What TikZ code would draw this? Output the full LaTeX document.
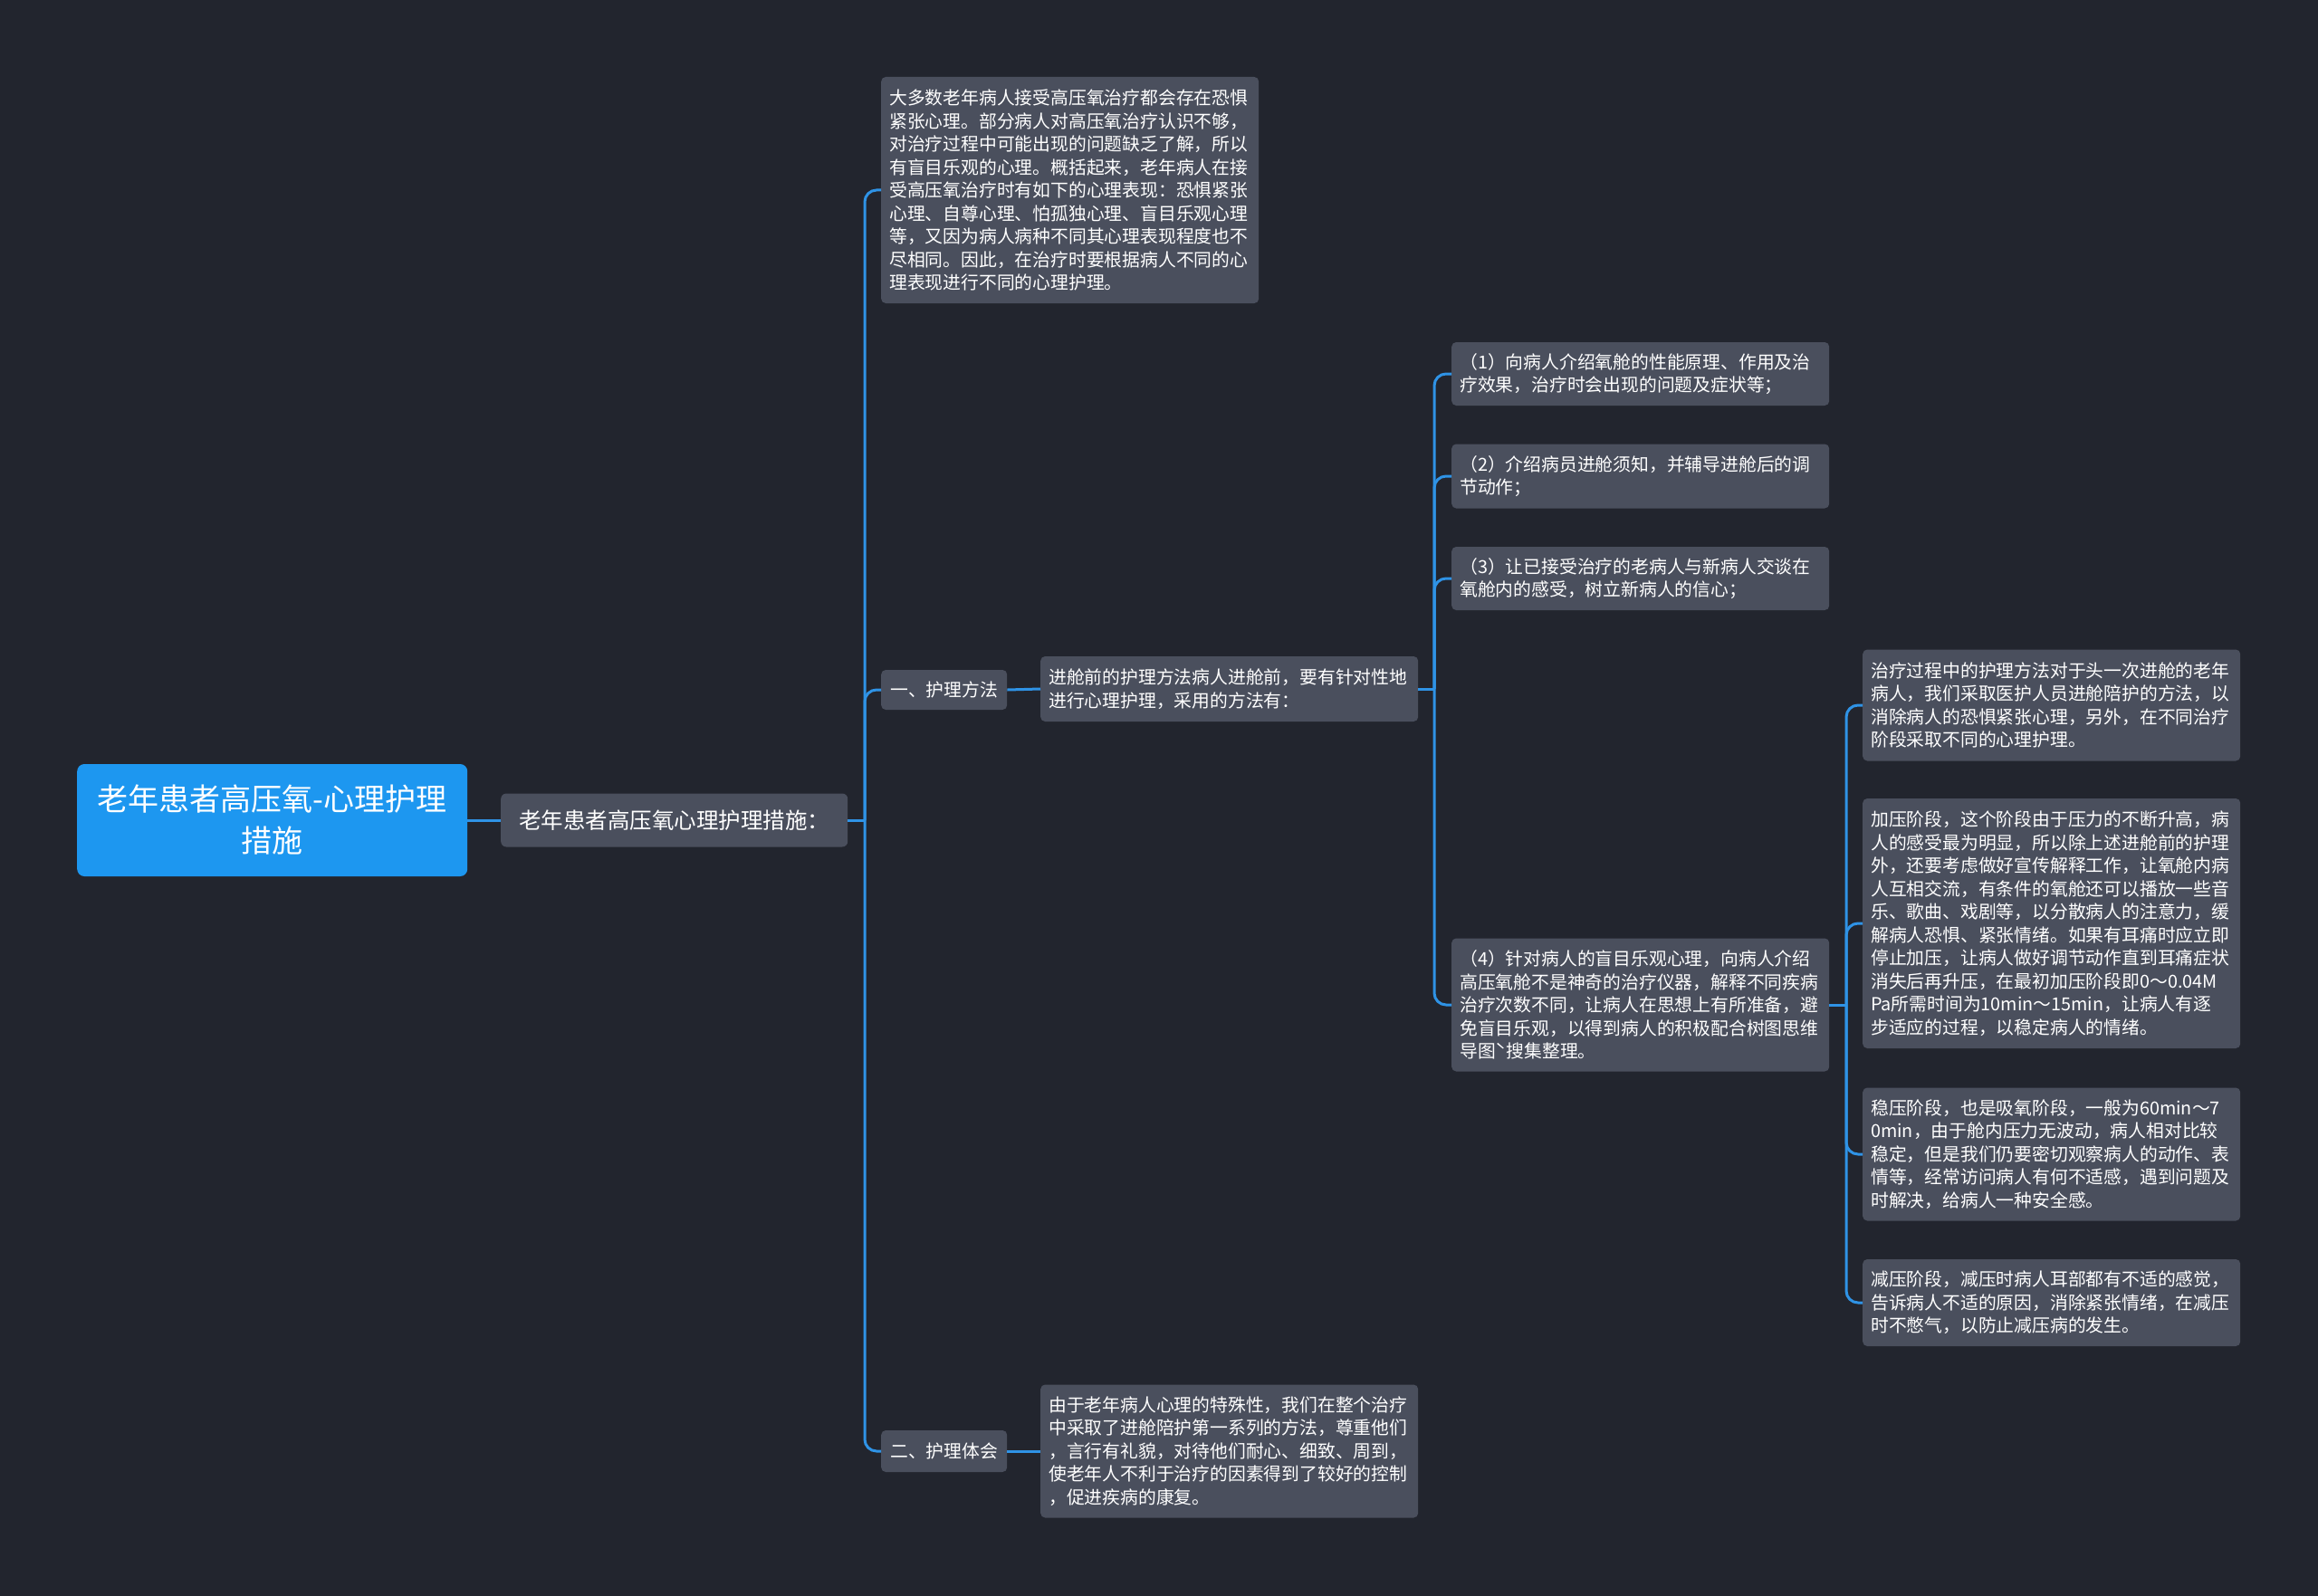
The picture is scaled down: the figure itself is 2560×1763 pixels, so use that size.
\documentclass[tikz,border=0pt]{standalone}
\usepackage{fontspec}
\setmainfont{Noto Sans CJK SC}
\definecolor{bgc}{HTML}{22252E}
\definecolor{boxc}{HTML}{4A4F5D}
\definecolor{linec}{HTML}{2F93E6}
\definecolor{rootc}{HTML}{1D97F0}
\tikzset{
  box/.style={fill=boxc, rounded corners=5pt, text=white, anchor=west, align=left,
    inner xsep=9pt, inner ysep=0pt, text width=399pt,
    font=\fontsize{19.8}{25.5}\selectfont},
  tag/.style={fill=boxc, rounded corners=5pt, text=white, anchor=west, align=center,
    inner xsep=0pt, inner ysep=0pt, minimum width=139pt, minimum height=44pt,
    font=\fontsize{19.8}{25.5}\selectfont},
  conn/.style={draw=linec, line width=3pt, rounded corners=13pt},
}
\begin{document}
\begin{tikzpicture}[x=1pt,y=-1pt]
\fill[bgc] (0,0) rectangle (2560,1763);
\useasboundingbox (0,0) rectangle (2560,1763);

\node[fill=rootc, rounded corners=8pt, text=white, anchor=west, align=center,
  minimum width=431pt, minimum height=124pt, inner sep=0pt,
  font=\fontsize{34}{46}\selectfont] (root) at (85,906)
  {老年患者高压氧-心理护理\\措施};

\node[fill=boxc, rounded corners=6pt, text=white, anchor=west, align=center,
  minimum width=383pt, minimum height=59pt, inner sep=0pt,
  font=\fontsize{24.5}{30}\selectfont] (L1) at (553,906)
  {老年患者高压氧心理护理措施：};

\node[box, minimum height=250pt] (T) at (973,210) {大多数老年病人接受高压氧治疗都会存在恐惧\\
紧张心理。部分病人对高压氧治疗认识不够，\\
对治疗过程中可能出现的问题缺乏了解，所以\\
有盲目乐观的心理。概括起来，老年病人在接\\
受高压氧治疗时有如下的心理表现：恐惧紧张\\
心理、自尊心理、怕孤独心理、盲目乐观心理\\
等，又因为病人病种不同其心理表现程度也不\\
尽相同。因此，在治疗时要根据病人不同的心\\
理表现进行不同的心理护理。};

\node[tag] (M1) at (973,762) {一、护理方法};
\node[tag, minimum height=46pt] (M2) at (973,1603) {二、护理体会};

\node[box, minimum height=72pt] (P) at (1149,761) {进舱前的护理方法病人进舱前，要有针对性地\\
进行心理护理，采用的方法有：};

\node[box, minimum height=70pt] (n1) at (1603,413) {（1）向病人介绍氧舱的性能原理、作用及治\\
疗效果，治疗时会出现的问题及症状等；};
\node[box, minimum height=71pt] (n2) at (1603,526) {（2）介绍病员进舱须知，并辅导进舱后的调\\
节动作；};
\node[box, minimum height=70pt] (n3) at (1603,639) {（3）让已接受治疗的老病人与新病人交谈在\\
氧舱内的感受，树立新病人的信心；};
\node[box, minimum height=147pt] (n4) at (1603,1110) {（4）针对病人的盲目乐观心理，向病人介绍\\
高压氧舱不是神奇的治疗仪器，解释不同疾病\\
治疗次数不同，让病人在思想上有所准备，避\\
免盲目乐观，以得到病人的积极配合树图思维\\
导图ˋ搜集整理。};

\node[box, minimum height=123pt] (A) at (2057,779) {治疗过程中的护理方法对于头一次进舱的老年\\
病人，我们采取医护人员进舱陪护的方法，以\\
消除病人的恐惧紧张心理，另外，在不同治疗\\
阶段采取不同的心理护理。};
\node[box, minimum height=276pt] (B) at (2057,1020) {加压阶段，这个阶段由于压力的不断升高，病\\
人的感受最为明显，所以除上述进舱前的护理\\
外，还要考虑做好宣传解释工作，让氧舱内病\\
人互相交流，有条件的氧舱还可以播放一些音\\
乐、歌曲、戏剧等，以分散病人的注意力，缓\\
解病人恐惧、紧张情绪。如果有耳痛时应立即\\
停止加压，让病人做好调节动作直到耳痛症状\\
消失后再升压，在最初加压阶段即0～0.04M\\
Pa所需时间为10min～15min，让病人有逐\\
步适应的过程，以稳定病人的情绪。};
\node[box, minimum height=147pt] (C) at (2057,1275) {稳压阶段，也是吸氧阶段，一般为60min～7\\
0min，由于舱内压力无波动，病人相对比较\\
稳定，但是我们仍要密切观察病人的动作、表\\
情等，经常访问病人有何不适感，遇到问题及\\
时解决，给病人一种安全感。};
\node[box, minimum height=96pt] (D) at (2057,1439) {减压阶段，减压时病人耳部都有不适的感觉，\\
告诉病人不适的原因，消除紧张情绪，在减压\\
时不憋气，以防止减压病的发生。};

\node[box, minimum height=147pt] (Q) at (1149,1603) {由于老年病人心理的特殊性，我们在整个治疗\\
中采取了进舱陪护第一系列的方法，尊重他们\\
，言行有礼貌，对待他们耐心、细致、周到，\\
使老年人不利于治疗的因素得到了较好的控制\\
，促进疾病的康复。};

\coordinate (j1) at (955,906);
\coordinate (j2) at (1584,761);
\coordinate (j3) at (2039,1110);

\draw[conn] (root.east) -- (L1.west);
\draw[conn] (L1.east) -- (j1);
\foreach \c in {T,M1,M2} \draw[conn] (j1) |- (\c.west);
\draw[conn] (M1.east) -- (P.west);
\draw[conn] (P.east) -- (j2);
\foreach \c in {n1,n2,n3,n4} \draw[conn] (j2) |- (\c.west);
\draw[conn] (n4.east) -- (j3);
\foreach \c in {A,B,C,D} \draw[conn] (j3) |- (\c.west);
\draw[conn] (M2.east) -- (Q.west);
\end{tikzpicture}
\end{document}
